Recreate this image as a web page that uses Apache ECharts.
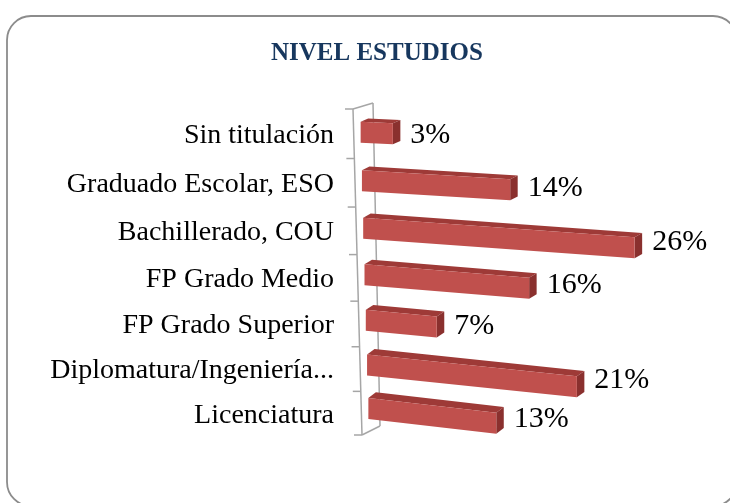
<!DOCTYPE html>
<html>
<head>
<meta charset="utf-8">
<script src="https://cdn.jsdelivr.net/npm/echarts@6/dist/echarts.min.js"></script>
<style>
  html, body { margin: 0; padding: 0; background: #fff; }
  #chart { width: 730px; height: 503px; }
</style>
</head>
<body>
<div id="chart"></div>
<script>
var categories = ['Sin titulación', 'Graduado Escolar, ESO', 'Bachillerado, COU', 'FP Grado Medio',
  'FP Grado Superior', 'Diplomatura/Ingeniería Técnica', 'Licenciatura'];
var percents = [3, 14, 26, 16, 7, 21, 13];

var chart = echarts.init(document.getElementById('chart'));

// excel 3d look: rows bulge a little in the middle, wall leans to the right
function warp(y, cs) {
  var s = (y - cs.y) / cs.height;
  return y + 24 * s * (1 - s);
}
function frontX(y, cs) {
  return cs.x - 7 + 9 * (y - cs.y) / cs.height;
}

function renderWall(params, api) {
  var cs = params.coordSys;
  var i = api.value(1);
  var c = api.coord([0, i]);
  var band = api.size([0, 1])[1];
  var y0 = warp(c[1] - band / 2, cs);
  var y1 = warp(c[1] + band / 2, cs);
  var line = { stroke: '#A6A6A6', lineWidth: 1.5 };
  var kids = [
    { type: 'line', shape: { x1: frontX(y0, cs) - 8, y1: y0, x2: frontX(y0, cs), y2: y0 }, style: line },
    { type: 'text', style: {
        text: categories[i], x: 334, y: (y0 + y1) / 2 + 2,
        align: 'right', verticalAlign: 'middle',
        font: '28px "Liberation Serif"', fill: '#000',
        width: 294, overflow: 'truncate', ellipsis: '...'
      } }
  ];
  if (i === 0) {
    var top = cs.y, bot = cs.y + cs.height;
    kids.push(
      { type: 'line', shape: { x1: cs.x - 7, y1: top, x2: cs.x + 2, y2: bot }, style: line },
      { type: 'line', shape: { x1: cs.x + 13, y1: top - 6, x2: cs.x + 20, y2: bot - 9 }, style: line },
      { type: 'line', shape: { x1: cs.x - 7, y1: top, x2: cs.x + 13, y2: top - 6 }, style: line },
      { type: 'line', shape: { x1: cs.x + 2, y1: bot, x2: cs.x + 20, y2: bot - 9 }, style: line },
      { type: 'line', shape: { x1: cs.x - 6, y1: bot, x2: cs.x + 2, y2: bot }, style: line }
    );
  }
  return { type: 'group', children: kids };
}

function renderBar(params, api) {
  var cs = params.coordSys;
  var v = api.value(0), i = api.value(1);
  var c0 = api.coord([0, i]), c1 = api.coord([v, i]);
  var s = (c0[1] - cs.y) / cs.height;
  var yc = warp(c0[1], cs) - 1.5 - 3.5 * s;
  var xl = c0[0] + 9 * s;
  var len = (c1[0] - c0[0]) * (1.03 - 0.1 * s);
  var xr = xl + len;
  var drop = (0.045 + 0.075 * s) * len;
  var bh = 21;
  var dx = 7.5, dy = -(3 + 3 * s);
  var tl = [xl, yc - bh / 2], bl = [xl, yc + bh / 2];
  var tr = [xr, tl[1] + drop], br = [xr, bl[1] + drop];
  return {
    type: 'group',
    children: [
      { type: 'polygon', shape: { points: [tl, tr, [tr[0] + dx, tr[1] + dy], [tl[0] + dx, tl[1] + dy]] },
        style: { fill: '#9E3A37' } },
      { type: 'polygon', shape: { points: [tr, [tr[0] + dx, tr[1] + dy], [br[0] + dx, br[1] + dy], br] },
        style: { fill: '#8A302E' } },
      { type: 'polygon', shape: { points: [tl, tr, br, bl] },
        style: { fill: '#C0504D' } },
      { type: 'text', style: {
          text: v + '%', x: xr + dx + 10, y: yc + 2 + 0.6 * drop,
          align: 'left', verticalAlign: 'middle',
          font: '30px "Liberation Serif"', fill: '#000'
        } }
    ]
  };
}

var options = {
  backgroundColor: '#fff',
  animation: false,
  title: {
    text: 'NIVEL ESTUDIOS',
    left: 266,
    top: 36,
    textStyle: { fontFamily: 'Liberation Serif', fontWeight: 'bold', fontSize: 25, color: '#17375E' },
  },
  graphic: [{
    type: 'rect', silent: true, z: -1,
    shape: { x: 7, y: 16, width: 730, height: 490, r: 24 },
    style: { fill: 'none', stroke: '#8C8C8C', lineWidth: 1.8 },
  }],
  grid: { left: 360, width: 315, top: 109, height: 326 },
  xAxis: { type: 'value', min: 0, max: 30, show: false },
  yAxis: { type: 'category', data: categories, inverse: true, show: false },
  series: [
    {
      name: 'wall', type: 'custom', silent: true, clip: false,
      renderItem: renderWall,
      encode: { x: 0, y: 1 },
      data: categories.map(function(c, i) { return [0, i]; }),
    },
    {
      name: 'Nivel estudios', type: 'custom', clip: false,
      renderItem: renderBar,
      encode: { x: 0, y: 1 },
      data: percents.map(function(v, i) { return [v, i]; }),
    }
  ],
};
chart.setOption(options);
</script>
</body>
</html>
